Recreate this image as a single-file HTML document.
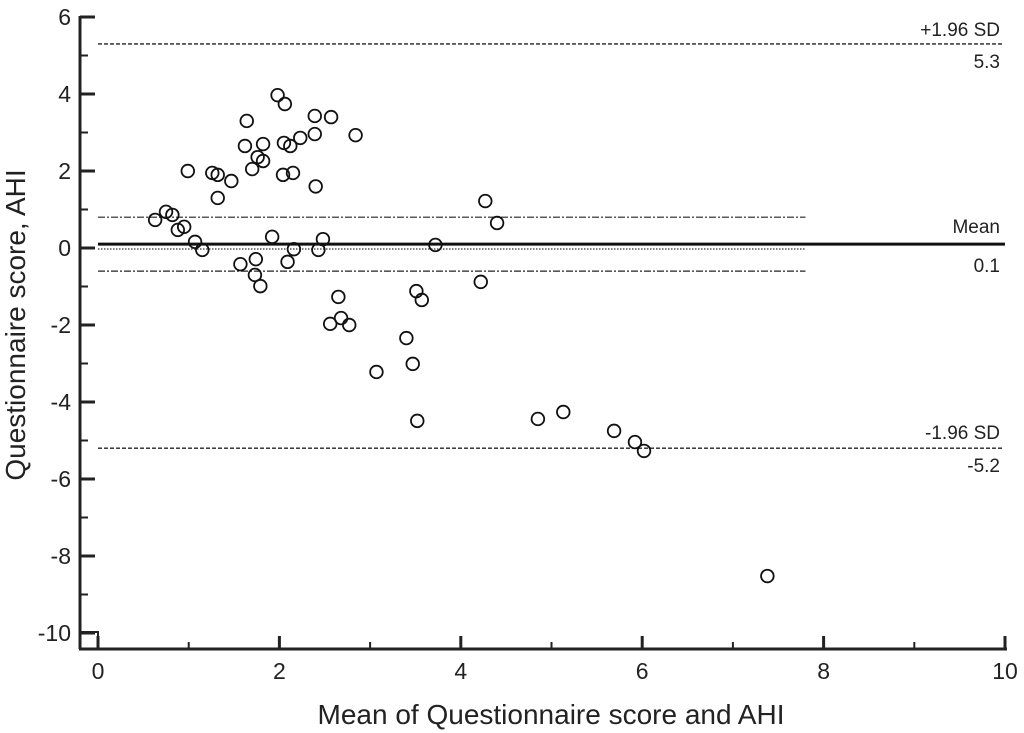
<!DOCTYPE html>
<html><head><meta charset="utf-8"><style>
body{margin:0;background:#fff}
svg{display:block;font-family:"Liberation Sans",Arial,sans-serif;fill:#222}
</style></head><body>
<svg width="1024" height="733" viewBox="0 0 1024 733" id="chart">
</svg>
<script>
const xTicks=[0,2,4,6,8,10];
const yTicks=[6,4,2,0,-2,-4,-6,-8,-10];
const xs=[0.63,0.75,0.82,0.88,0.95,0.99,1.07,1.15,1.26,1.32,1.32,1.47,1.57,1.64,1.62,1.70,1.73,1.74,1.76,1.79,1.82,1.82,1.92,1.98,2.06,2.05,2.04,2.12,2.09,2.15,2.16,2.23,2.39,2.39,2.40,2.43,2.48,2.57,2.65,2.56,2.68,2.77,2.84,3.07,3.40,3.47,3.51,3.57,3.52,3.72,4.22,4.27,4.40,4.85,5.13,5.69,5.92,6.02,7.38];
const ys=[0.73,0.94,0.86,0.47,0.55,2.0,0.16,-0.05,1.95,1.9,1.3,1.74,-0.42,3.3,2.65,2.05,-0.7,-0.29,2.36,-0.99,2.7,2.26,0.29,3.97,3.74,2.73,1.9,2.65,-0.36,1.95,-0.03,2.86,2.96,3.43,1.6,-0.05,0.23,3.4,-1.27,-1.97,-1.82,-2.0,2.93,-3.22,-2.34,-3.01,-1.12,-1.35,-4.49,0.08,-0.88,1.22,0.65,-4.44,-4.26,-4.75,-5.04,-5.27,-8.52];
const meanVal=0.1, upperSD=5.3, lowerSD=-5.2, ciUpper=0.8, ciLower=-0.6, ciEnd=7.8;
const X=v=>98+v*90.7, Y=v=>248-v*38.5;
const svg=document.getElementById('chart');
const NS='http://www.w3.org/2000/svg';
function mk(t,a){const e=document.createElementNS(NS,t);for(const k in a)e.setAttribute(k,a[k]);svg.appendChild(e);return e;}
let e=mk('line',{x1:80,y1:16,x2:80,y2:649,stroke:'#222','stroke-width':3});


e=mk('line',{x1:79,y1:649,x2:1007,y2:649,stroke:'#222','stroke-width':3});


mk('polyline',{points:'80,632 98,632 98,649',fill:'none',stroke:'#222','stroke-width':2});
xTicks.forEach(v=>{
 mk('line',{x1:X(v),y1:649,x2:X(v),y2:636,stroke:'#222','stroke-width':3});
 if(v<10) mk('line',{x1:X(v+1),y1:649,x2:X(v+1),y2:642,stroke:'#222','stroke-width':2});
 const t=mk('text',{x:X(v),y:679,'font-size':23,'text-anchor':'middle'});t.textContent=v;
 
 
});
yTicks.forEach(v=>{
 mk('line',{x1:80,y1:Y(v),x2:95,y2:Y(v),stroke:'#222','stroke-width':3});
 if(v>-10) mk('line',{x1:80,y1:Y(v-1),x2:88,y2:Y(v-1),stroke:'#222','stroke-width':2});
 const t=mk('text',{x:71,y:Y(v)+8,'font-size':23,'text-anchor':'end'});t.textContent=v;
 
 
});
e=mk('line',{x1:X(0),y1:Y(upperSD),x2:1003,y2:Y(upperSD),stroke:'#222','stroke-width':1.3,'stroke-dasharray':'4,2'});


e=mk('line',{x1:X(0),y1:Y(lowerSD),x2:1003,y2:Y(lowerSD),stroke:'#222','stroke-width':1.3,'stroke-dasharray':'4,2'});


e=mk('line',{x1:X(0),y1:Y(meanVal),x2:1005,y2:Y(meanVal),stroke:'#111','stroke-width':3});


e=mk('line',{x1:X(0),y1:Y(0)+1,x2:X(ciEnd),y2:Y(0)+1,stroke:'#333','stroke-width':1.2,'stroke-dasharray':'1.5,1.5'});


[ciUpper,ciLower].forEach(v=>{
 const l=mk('line',{x1:X(0),y1:Y(v),x2:X(ciEnd),y2:Y(v),stroke:'#222','stroke-width':1.2,'stroke-dasharray':'7,2,2,2'});
 
 
});
[['+1.96 SD',Y(upperSD)-8],[String(upperSD),Y(upperSD)+24],['Mean',Y(meanVal)-11],[String(meanVal),Y(meanVal)+28],['-1.96 SD',Y(lowerSD)-9],[String(lowerSD),Y(lowerSD)+24]].forEach(([s,y])=>{
 const t=mk('text',{x:1000,y:y,'font-size':19,'text-anchor':'end'});t.textContent=s;
 
 
});
xs.forEach((v,i)=>{
 const c=mk('circle',{cx:X(v),cy:Y(ys[i]),r:6.3,fill:'none',stroke:'#111','stroke-width':1.8});
 
 
});
let t=mk('text',{x:551,y:724,'font-size':28,'text-anchor':'middle'});t.textContent='Mean of Questionnaire score and AHI';


t=mk('text',{x:0,y:0,'font-size':28,'text-anchor':'middle',transform:'translate(25,325) rotate(-90)'});t.textContent='Questionnaire score, AHI';


</script>
</body></html>
